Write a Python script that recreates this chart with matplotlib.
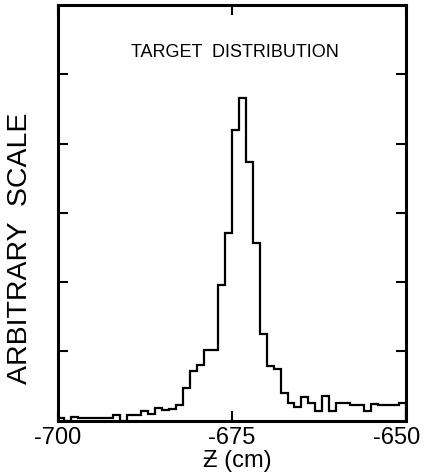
"""Target distribution histogram: counts vs Z (cm), arbitrary scale."""
import numpy as np
import matplotlib
matplotlib.use("Agg")
import matplotlib.pyplot as plt
from matplotlib.transforms import ScaledTranslation

# ── Data (1 cm bins) ──────────────────────────────────────────────────
z_edges = np.arange(-700, -649, 1)
counts = [
    0.04, 0.0, 0.05, 0.035, 0.035, 0.035, 0.035, 0.035, 0.08, 0.0,
    0.075, 0.075, 0.13, 0.09, 0.18, 0.15, 0.17, 0.23, 0.47, 0.72,
    0.80, 1.02, 1.02, 1.95, 2.71, 4.20, 4.65, 3.74, 2.57, 1.25,
    0.79, 0.74, 0.40, 0.25, 0.19, 0.34, 0.25, 0.14, 0.35, 0.14,
    0.25, 0.25, 0.22, 0.22, 0.14, 0.24, 0.22, 0.22, 0.22, 0.25,
]
x_ticks = [-700, -675, -650]
x_tick_labels = ["-700", "-675", "-650"]
y_ticks = [1, 2, 3, 4, 5]

plt.rcParams["font.family"] = ["Liberation Sans", "DejaVu Sans"]

fig = plt.figure(figsize=(4.27, 4.76), dpi=100)
ax = fig.add_axes([57.5 / 427, 1 - 420.5 / 476, (406 - 57.5) / 427, (420.5 - 5) / 476])

ax.stairs(counts, z_edges, color="black", linewidth=1.6)

ax.set_xlim(-700, -650)
ax.set_ylim(0, 6)
ax.set_xticks(x_ticks)
ax.set_xticklabels(x_tick_labels, fontsize=17)
ax.set_yticks(y_ticks)
ax.set_yticklabels([])
ax.tick_params(axis="both", direction="in", length=7, width=1.5,
               top=True, right=True, pad=5)
for s in ax.spines.values():
    s.set_linewidth(2.2)

# keep the right-most label inside the canvas
lbl = ax.get_xticklabels()[-1]
lbl.set_transform(lbl.get_transform() + ScaledTranslation(-0.09, 0, fig.dpi_scale_trans))

ax.text(0.51, 0.885, "TARGET  DISTRIBUTION", transform=ax.transAxes,
        ha="center", va="center", fontsize=13)

fig.text(237 / 427, 1 - 461 / 476, "Ƶ (cm)", ha="center", va="center", fontsize=17)
fig.text(20 / 427, 1 - 248 / 476, "ARBITRARY  SCALE", rotation=90,
         ha="center", va="center", fontsize=20.5)

fig.savefig("out.png", dpi=100)
